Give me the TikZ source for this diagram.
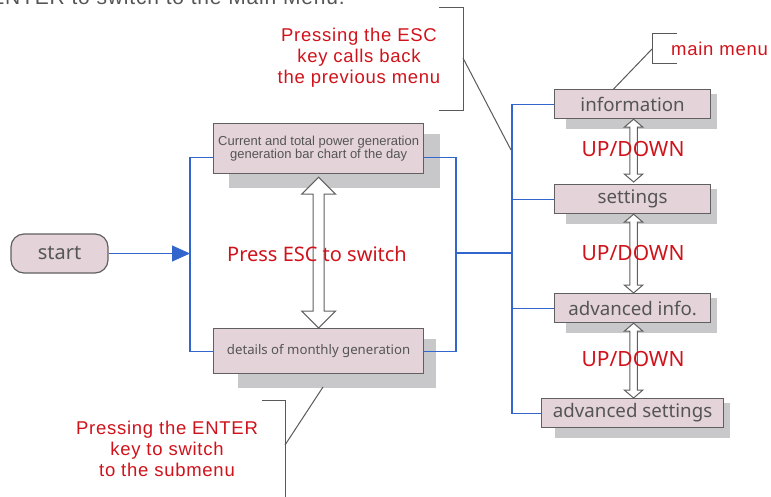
\documentclass[tikz,border=0pt]{standalone}
\usepackage{fontspec}
\setmainfont{Liberation Sans}
\newfontfamily\hum{Noto Sans}
\newfontfamily\trk[LetterSpace=4]{Liberation Sans}
\usetikzlibrary{arrows.meta,calc}
\pgfdeclarelayer{bg}\pgfsetlayers{bg,main}
\definecolor{boxfill}{HTML}{E4D4D9}
\definecolor{shadowc}{HTML}{C8C8CA}
\definecolor{edgec}{HTML}{606060}
\definecolor{bluec}{HTML}{3366CC}
\definecolor{redc}{HTML}{D0121B}
\definecolor{textc}{HTML}{555555}
\definecolor{notec}{HTML}{595959}
\newcommand\dblarrow[5]{%
  \draw[hollow] let \p1=(#1), \p2=(#2) in
   (\x1,\y1) -- (\x1+#3,\y1-#4) -- (\x1+#5,\y1-#4) -- (\x1+#5,\y2+#4) -- (\x1+#3,\y2+#4)
   -- (\x1,\y2) -- (\x1-#3,\y2+#4) -- (\x1-#5,\y2+#4) -- (\x1-#5,\y1-#4) -- (\x1-#3,\y1-#4) -- cycle;}
\newcommand\shadowof[5]{%
  \begin{pgfonlayer}{bg}
  \fill[shade] ([shift={(#2,#3)}]#1.north west) rectangle ([shift={(#4,#5)}]#1.south east);
  \end{pgfonlayer}}
\begin{document}
\begin{tikzpicture}[x=1pt,y=-1pt,
 box/.style={draw=edgec, line width=1.2pt, fill=boxfill, inner sep=0pt, anchor=north west, text=textc, align=center},
 menubox/.style={box, minimum height=29pt, font=\hum\fontsize{18.7}{20}\selectfont},
 shade/.style={fill=shadowc},
 bus/.style={draw=bluec, line width=1.1pt},
 note/.style={draw=notec, line width=1pt},
 redtext/.style={text=redc, align=center},
 annot/.style={redtext, font=\trk\fontsize{18.5}{21}\selectfont},
 bigred/.style={redtext, font=\hum\fontsize{20}{22}\selectfont},
 hollow/.style={draw=edgec, fill=white, line width=1pt, line join=miter}
]
\useasboundingbox (0,0) rectangle (771,496);

% cut-off heading
\node[anchor=base east, text=textc, font=\trk\fontsize{21}{23}\selectfont, inner sep=0pt] (head) at (345,4) {ENTER to switch to the Main Menu.};

% start
\node[draw=edgec, line width=1.2pt, fill=boxfill, rounded corners=13pt, minimum width=97pt, minimum height=39pt, inner sep=0pt, text=textc, font=\hum\fontsize{20}{22}\selectfont] (start) at (59.5,253.5) {start};

% left boxes
\node[box, minimum width=210pt, minimum height=50pt, font=\fontsize{13}{13.5}\selectfont] (b1) at (213,123) {Current and total power generation\\generation bar chart of the day};
\node[box, minimum width=210pt, minimum height=45pt, font=\hum\fontsize{13.2}{15}\selectfont] (b2) at (213,328) {details of monthly generation};
\shadowof{b1}{16}{11}{16}{14}
\shadowof{b2}{25}{11}{12}{14}

% menu boxes
\node[menubox, minimum width=156pt] (m1) at (554,89) {information};
\node[menubox, minimum width=156pt] (m2) at (554,184) {settings};
\node[menubox, minimum width=156pt] (m3) at (554,293) {advanced info.};
\node[menubox, minimum width=182pt] (m4) at (541,398) {advanced settings};
\shadowof{m1}{12}{5}{6}{10}
\shadowof{m2}{12}{5}{6}{10}
\shadowof{m3}{12}{5}{6}{10}
\shadowof{m4}{14}{5}{6}{10}

% blue connectors
\coordinate (lj) at (190,253.5);
\coordinate (rj) at (456,253);
\coordinate (bus) at (512,253);
\draw[bus, -{Triangle[length=18pt,width=16pt]}] (start.east) -- (lj);
\draw[bus] ([yshift=-9pt]b1.west) -| (lj) |- (b2.west);
\begin{pgfonlayer}{bg}
\draw[bus] (b2.east) -| (rj);
\end{pgfonlayer}
\draw[bus] ([yshift=-9pt]b1.east) -| (rj);
\draw[bus] (rj) -- (bus);
\draw[bus] (m1.west) -- (m1.west -| bus) -- (m4.west -| bus) -- (m4.west);
\draw[bus] (m2.west) -- (m2.west -| bus);
\draw[bus] (m3.west) -- (m3.west -| bus);

% hollow double arrows
\dblarrow{[yshift=-3pt]b1.south}{b2.north}{17pt}{17pt}{5.5pt}
\dblarrow{[xshift=1pt]m1.south}{[xshift=1pt,yshift=2pt]m2.north}{9.3pt}{8pt}{3.8pt}
\dblarrow{[xshift=1pt]m2.south}{[xshift=1pt]m3.north}{9.3pt}{8pt}{3.8pt}
\dblarrow{[xshift=1pt]m3.south}{[xshift=1pt]m4.north}{9.3pt}{8pt}{3.8pt}

% red labels
\node[bigred] (esc) at (317,254) {Press ESC to switch};
\node[bigred, font=\hum\fontsize{21}{23}\selectfont] (ud1) at (633,149) {UP/DOWN};
\node[bigred, font=\hum\fontsize{21}{23}\selectfont] (ud2) at (633,253) {UP/DOWN};
\node[bigred, font=\hum\fontsize{21}{23}\selectfont] (ud3) at (633,359) {UP/DOWN};

% annotations
\node[annot] (escnote) at (359,58) {Pressing the ESC\\key calls back\\the previous menu};
\coordinate (e1) at (439,7.5); \coordinate (e2) at (463,7.5);
\coordinate (e3) at (463,110); \coordinate (e4) at (439,110);
\coordinate (ek) at (463,58);
\draw[note] (e1) -- (e2) -- (e3) -- (e4);
\draw[note] (ek) -- (511,150);

\node[annot, anchor=west, inner sep=0pt] (mmnote) at (671,49) {main menu};
\coordinate (mm1) at (677,33); \coordinate (mm2) at (652,33);
\coordinate (mm3) at (652,63); \coordinate (mm4) at (677,63);
\coordinate (mmk) at (652,49);
\draw[note] (mm1) -- (mm2) -- (mm3) -- (mm4);
\draw[note] (mmk) -- ([xshift=-19pt]m1.north);

\node[annot] (entnote) at (167,449) {Pressing the ENTER\\key to switch\\to the submenu};
\coordinate (n1) at (262,400); \coordinate (n2) at (285,400);
\coordinate (n3) at (285,500); \coordinate (nk) at (285,445);
\draw[note] (n1) -- (n2) -- (n3);
\draw[note] (nk) -- (323,387);
\end{tikzpicture}
\end{document}
